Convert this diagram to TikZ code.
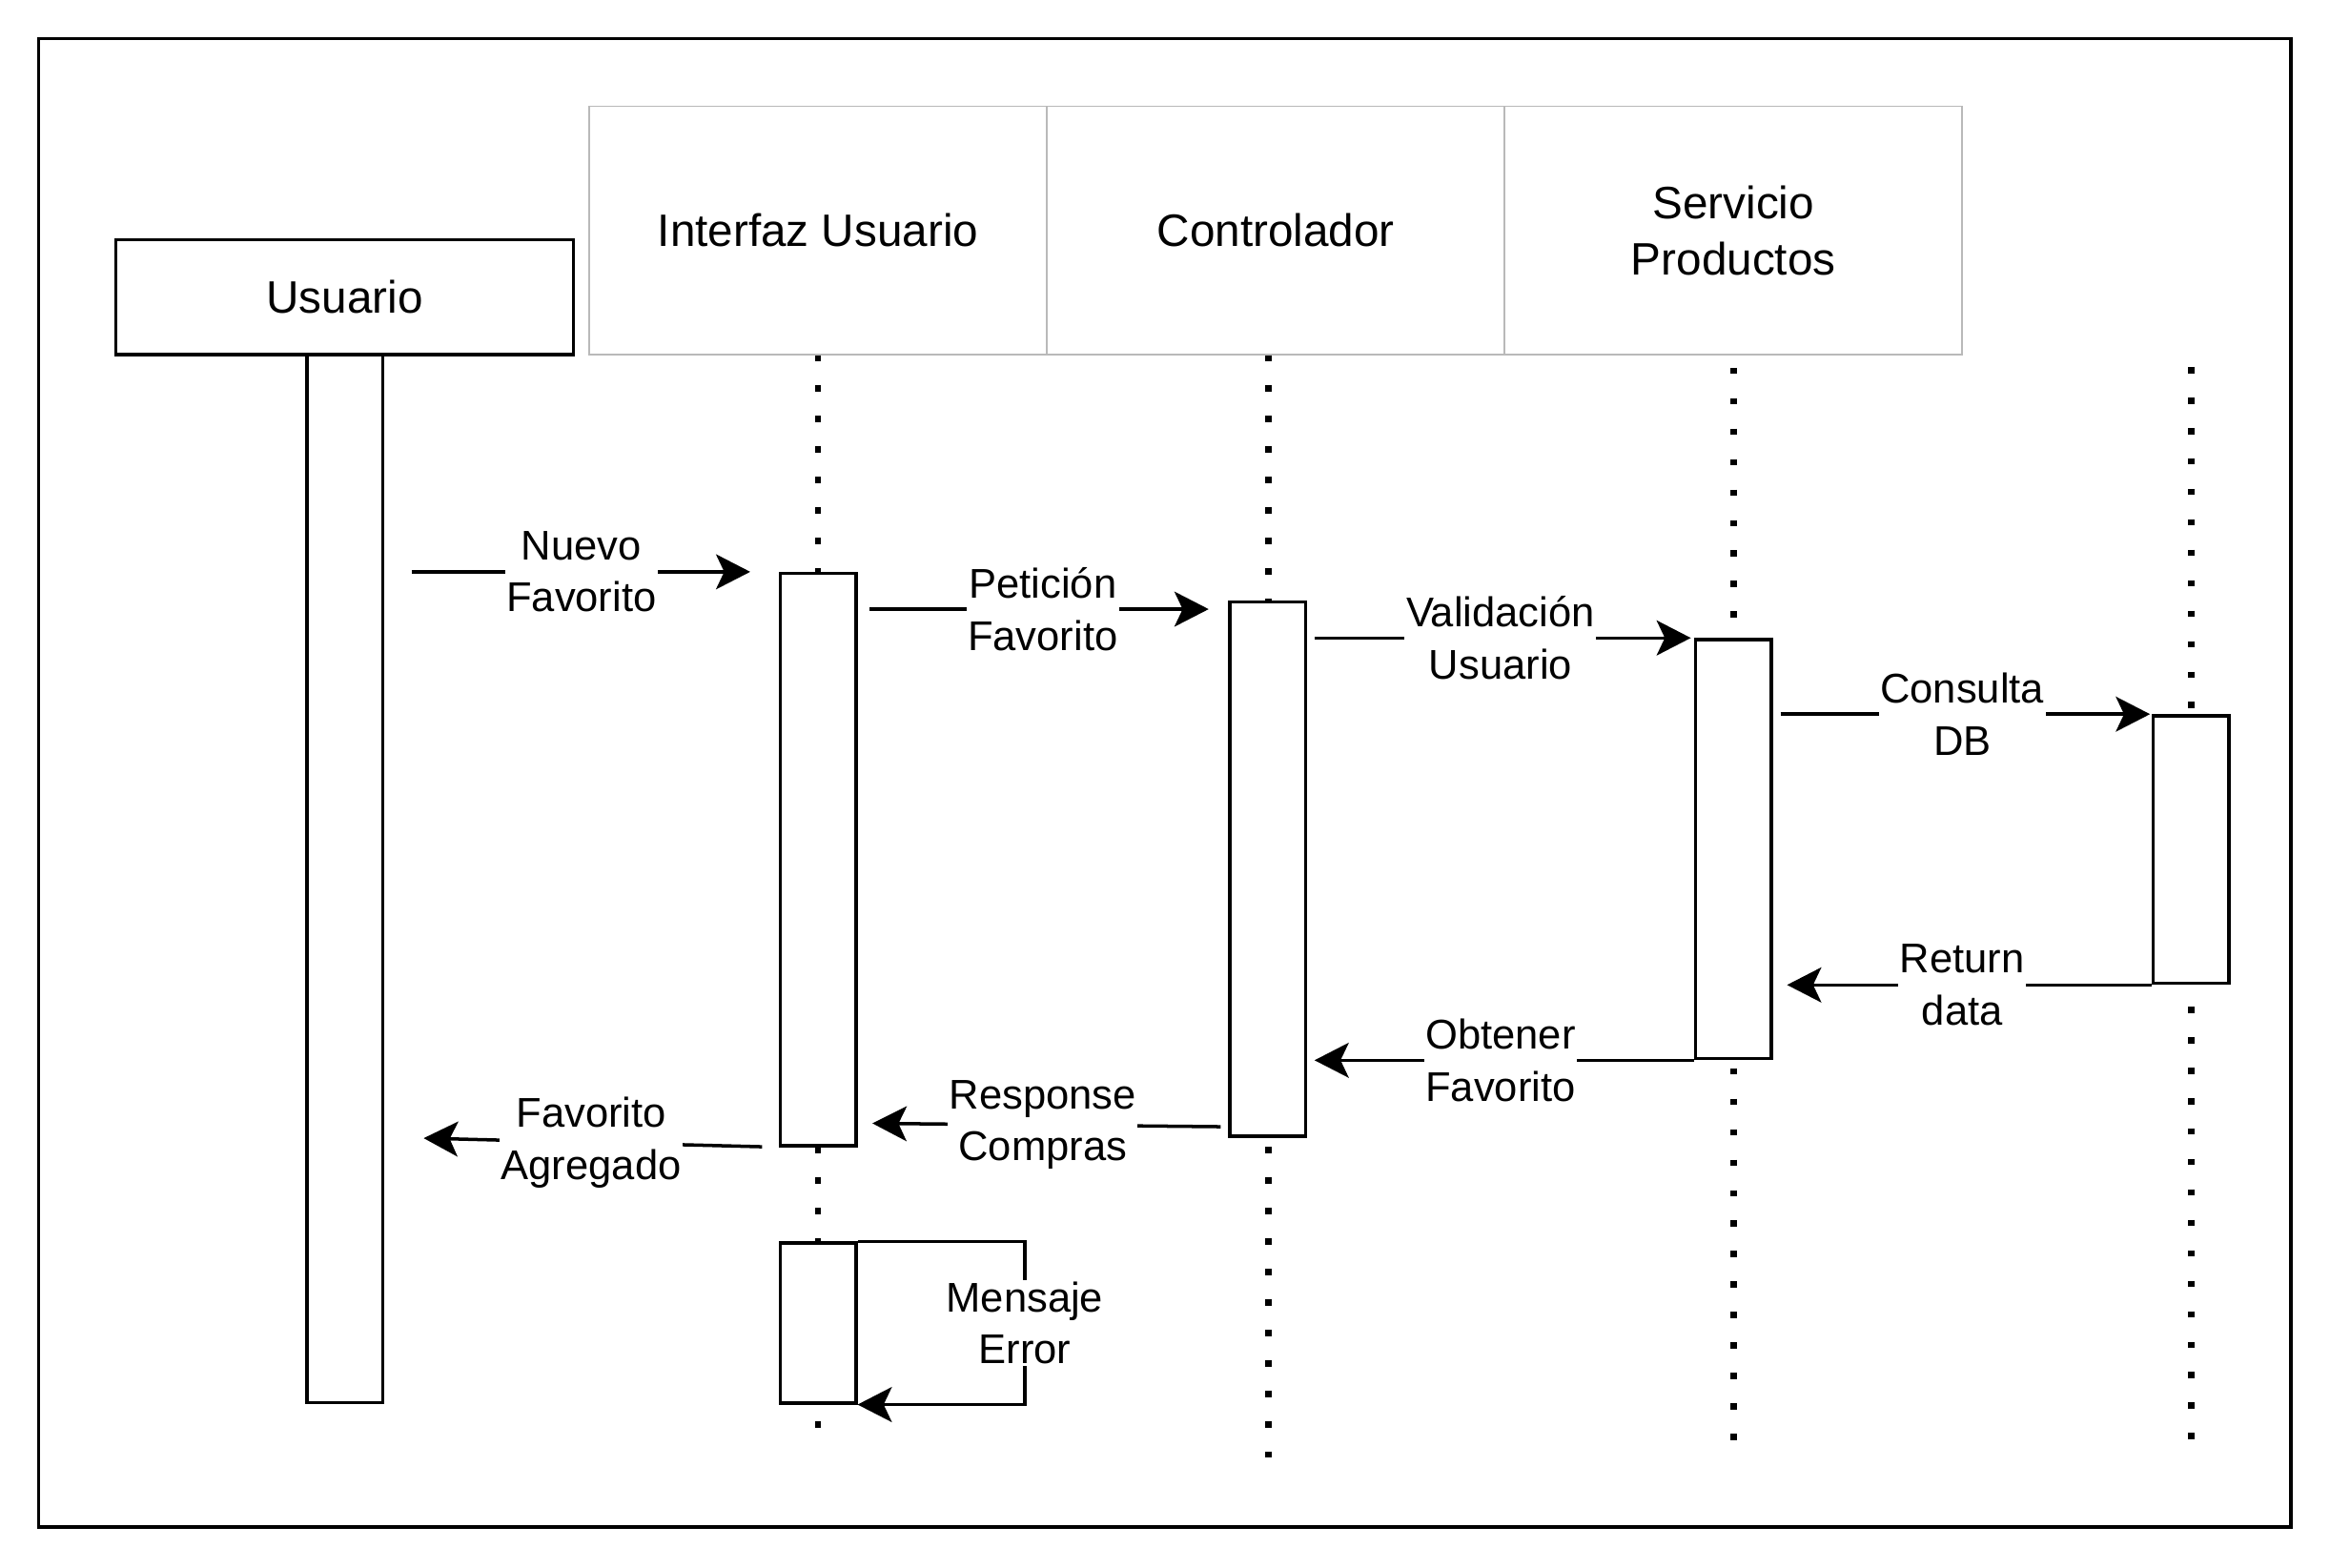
\documentclass[tikz,border=0pt]{standalone}
\usepackage{fontspec}
\setmainfont{Liberation Sans}
\usepackage{tikz}
\usetikzlibrary{arrows.meta,positioning}
\newcommand{\headfont}{\fontsize{17.4pt}{21.6pt}\selectfont}
\newcommand{\lblfont}{\fontsize{15.9pt}{19.9pt}\selectfont}

\begin{document}
\begin{tikzpicture}[x=0.2mm,y=-0.2mm,node distance=61.6mm,line width=0.45mm,
	head/.style={draw=gray!55,line width=0.2mm,minimum width=61.6mm,minimum height=33.4mm,align=center,font=\headfont},
	actor/.style={draw,minimum width=61.6mm,minimum height=15.4mm,font=\headfont},
	bar/.style={draw,fill=white,minimum width=10.2mm,inner sep=0pt},
	life/.style={line width=0.85mm,dash pattern=on 0.85mm off 3.25mm},
	msg/.style={-{Stealth[length=4.6mm,width=4.7mm,inset=1.1mm]}},
	lbl/.style={fill=white,align=center,inner sep=0.2mm,font=\lblfont}]
				\useasboundingbox (0,0) rectangle (1568,1055);
				\draw[line width=0.5mm] (26,26) rectangle (1541.5,1027.5);
				\node[actor] (usr) at (232,200) {Usuario};
				\node[head] (iu) at (550.5,155) {Interfaz Usuario};
				\node[head] (ct) [right of=iu] {Controlador};
				\node[head] (sv) [right of=ct] {Servicio\\Productos};
				\draw[life] (iu.south) -- ++(0,735);
				\draw[life] ([xshift=-1mm]ct.south) -- ++(0,743);
				\draw[life] ([yshift=-1.7mm]sv.south) -- ++(0,725);
				\draw[life] (1474.5,247) -- (1474.5,972);
				\node[bar,minimum height=141.1mm] (uBar) [below=-0.45mm of usr] {};
				\node[bar,minimum height=77mm] (iuBar) at (550.5,578.5) {};
				\node[bar,minimum height=21.5mm] (iuBar2) at (550.5,890.5) {};
				\node[bar,minimum height=71.9mm] (ctBar) at (853,585) {};
				\node[bar,minimum height=56.4mm] (svBar) at (1166.5,571.5) {};
				\node[bar,minimum height=36mm] (dbBar) at (1474.5,571.8) {};
				\path
				(uBar.east |- iuBar.north) edge[msg,shorten <=3.7mm,shorten >=3.8mm] node[lbl] {Nuevo\\Favorito} (iuBar.north west)
				(iuBar.east |- 0,410) edge[msg,shorten <=1.6mm,shorten >=2.6mm] node[lbl] {Petición\\Favorito} (ctBar.west |- 0,410)
				(ctBar.east |- svBar.north) edge[msg,shorten <=1mm,shorten >=0.4mm] node[lbl] {Validación\\Usuario} (svBar.north west)
				(svBar.east |- dbBar.north) edge[msg,shorten <=1mm,shorten >=0.2mm] node[lbl] {Consulta\\DB} (dbBar.north west)
				(dbBar.south west) edge[msg,shorten >=1.9mm] node[lbl] {Return\\data} (svBar.east |- dbBar.south)
				(svBar.south west) edge[msg,shorten >=1mm] node[lbl] {Obtener\\Favorito} (ctBar.east |- svBar.south)
				(ctBar.west |- 0,758.4) edge[msg,shorten <=1mm,shorten >=2mm] node[lbl] {Response\\Compras} (iuBar.east |- 0,756)
				(iuBar.south west) edge[msg,shorten <=2.2mm,shorten >=5.3mm] node[lbl,pos=0.475] {Favorito\\Agregado} (uBar.east |- 0,765.4);
				\draw[msg] (iuBar2.north east) -- ++(112.5,0) |- node[lbl,pos=0.25] {Mensaje\\Error} (iuBar2.south east);
\end{tikzpicture}
\end{document}
